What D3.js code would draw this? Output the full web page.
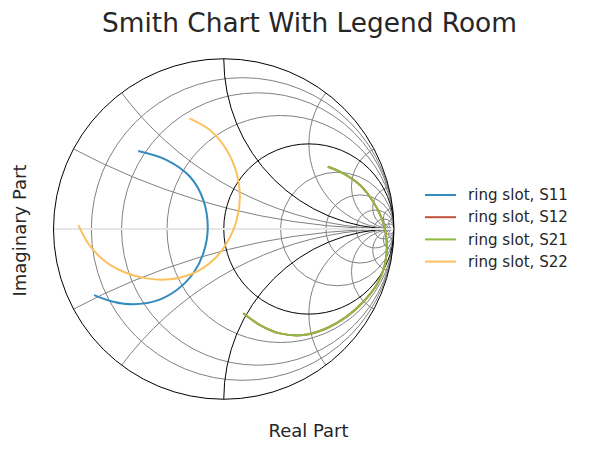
<!DOCTYPE html>
<html>
<head>
<meta charset="utf-8">
<script src="https://cdn.jsdelivr.net/npm/d3@7"></script>
<style>
  body { margin: 0; background: #fff; }
  text { font-family: "DejaVu Sans", sans-serif; fill: #262626; }
</style>
</head>
<body>
<div id="chart"></div>
<script>
// reflection coefficients, [real, imag]
const s11 = [
    [-0.502, 0.458], [-0.335, 0.405], [-0.198, 0.307], [-0.120, 0.170],
    [-0.094, 0.004], [-0.120, -0.143], [-0.179, -0.260], [-0.276, -0.358],
    [-0.394, -0.421], [-0.531, -0.442], [-0.649, -0.427], [-0.762, -0.388]
];
const s21 = [
    [0.611, 0.366], [0.702, 0.327], [0.800, 0.258], [0.878, 0.160],
    [0.928, 0.063], [0.953, -0.035], [0.957, -0.133], [0.941, -0.231],
    [0.898, -0.329], [0.820, -0.427], [0.722, -0.515], [0.605, -0.583],
    [0.467, -0.623], [0.330, -0.613], [0.213, -0.564], [0.115, -0.495]
];
const s12 = s21.map(d => d.slice()); // reciprocal, hidden under S21
const s22 = [
    [-0.202, 0.650], [-0.081, 0.581], [0.017, 0.464], [0.076, 0.327],
    [0.095, 0.190], [0.076, 0.053], [0.017, -0.084], [-0.061, -0.182],
    [-0.179, -0.260], [-0.316, -0.295], [-0.453, -0.290], [-0.590, -0.251],
    [-0.707, -0.182], [-0.796, -0.084], [-0.854, 0.023]
];
const seriesNames = ['ring slot, S11', 'ring slot, S12', 'ring slot, S21', 'ring slot, S22'];
const colors = ['#348ABD', '#C0503A', '#8EBA42', '#FBC15E'];

// smith grid values
const rLight = [0.125, 0.25, 0.5, 2, 4, 8, 16, 32];
const xLight = [0.25, 0.5, 2, 4, 8, 16, 32, -0.25, -0.5, -2, -4, -8, -16, -32];
const rHeavy = [1];
const xHeavy = [1, -1];

const width = 593, height = 453;
const cx = 223.75, cy = 229, R = 170.25;

const x = d3.scaleLinear().domain([-1, 1]).range([cx - R, cx + R]);
const y = d3.scaleLinear().domain([-1, 1]).range([cy + R, cy - R]);
const len = d => x(d) - x(0); // length in px

const svg = d3.select('#chart').append('svg')
    .attr('width', width)
    .attr('height', height);

svg.append('clipPath').attr('id', 'unit')
    .append('circle')
    .attr('cx', x(0)).attr('cy', y(0)).attr('r', len(1));

const grid = svg.append('g').attr('clip-path', 'url(#unit)').attr('fill', 'none');

// constant resistance circles
grid.selectAll('.r-light').data(rLight).enter().append('circle')
    .attr('cx', r => x(r / (1 + r)))
    .attr('cy', y(0))
    .attr('r', r => len(1 / (1 + r)))
    .attr('stroke', 'grey')
    .attr('stroke-width', 1);

// constant reactance circles
grid.selectAll('.x-light').data(xLight).enter().append('circle')
    .attr('cx', x(1))
    .attr('cy', v => y(1 / v))
    .attr('r', v => len(Math.abs(1 / v)))
    .attr('stroke', 'grey')
    .attr('stroke-width', 1);

grid.selectAll('.r-heavy').data(rHeavy).enter().append('circle')
    .attr('cx', r => x(r / (1 + r)))
    .attr('cy', y(0))
    .attr('r', r => len(1 / (1 + r)))
    .attr('stroke', 'black')
    .attr('stroke-width', 1);

grid.selectAll('.x-heavy').data(xHeavy).enter().append('circle')
    .attr('cx', x(1))
    .attr('cy', v => y(1 / v))
    .attr('r', v => len(Math.abs(1 / v)))
    .attr('stroke', 'black')
    .attr('stroke-width', 1);

// real axis
grid.append('line')
    .attr('x1', x(-1)).attr('x2', x(1))
    .attr('y1', y(0)).attr('y2', y(0))
    .attr('stroke', '#e6e6e6')
    .attr('stroke-width', 2);

// outer circle
svg.append('circle')
    .attr('cx', x(0)).attr('cy', y(0)).attr('r', len(1))
    .attr('fill', 'none')
    .attr('stroke', 'black')
    .attr('stroke-width', 1);

// traces
const line = d3.line()
    .x(d => x(d[0]))
    .y(d => y(d[1]))
    .curve(d3.curveCatmullRom);

const traces = [s11, s12, s21, s22];
svg.append('g').selectAll('path').data(traces).enter().append('path')
    .attr('d', line)
    .attr('fill', 'none')
    .attr('stroke', (d, i) => colors[i])
    .attr('stroke-width', 2);

// legend
const legend = svg.append('g').attr('transform', 'translate(425,195)');
const item = legend.selectAll('g').data(seriesNames).enter().append('g')
    .attr('transform', (d, i) => `translate(0,${i * 22.2})`);
item.append('line')
    .attr('x1', 0).attr('x2', 31)
    .attr('stroke', (d, i) => colors[i])
    .attr('stroke-width', 2);
item.append('text')
    .attr('x', 43)
    .attr('dy', '0.35em')
    .style('font-size', '15.1px')
    .text(d => d);

// titles
svg.append('text')
    .attr('x', 309.5).attr('y', 32)
    .attr('text-anchor', 'middle')
    .style('font-size', '26.4px')
    .text('Smith Chart With Legend Room');

svg.append('text')
    .attr('x', 308.5).attr('y', 437)
    .attr('text-anchor', 'middle')
    .style('font-size', '18px')
    .text('Real Part');

svg.append('text')
    .attr('transform', 'translate(26,230.5) rotate(-90)')
    .attr('text-anchor', 'middle')
    .style('font-size', '18px')
    .text('Imaginary Part');
</script>
</body>
</html>
